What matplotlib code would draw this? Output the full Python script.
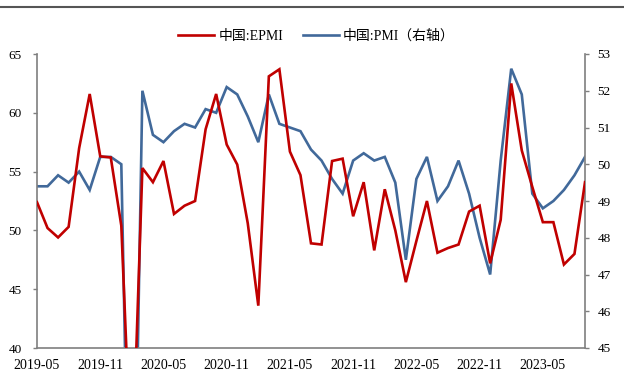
import matplotlib
matplotlib.use("Agg")
import matplotlib.pyplot as plt
from matplotlib.lines import Line2D

plt.rcParams['font.family'] = ['Liberation Serif', 'Noto Sans CJK SC', 'DejaVu Sans']

# Monthly series, 2019-05 .. 2023-09
months = [f"{y}-{m:02d}" for y in range(2019, 2024) for m in range(1, 13)]
months = months[months.index("2019-05"):months.index("2023-09") + 1]

epmi = [52.4, 50.2, 49.4, 50.3, 57.0, 61.6, 56.3, 56.2, 50.4, 28.6,
        55.3, 54.1, 55.9, 51.4, 52.1, 52.5, 58.6, 61.6, 57.3, 55.6,
        50.6, 43.6, 63.1, 63.7, 56.7, 54.7, 48.9, 48.8, 55.9, 56.1,
        51.2, 54.1, 48.3, 53.5, 50.0, 45.6, 49.1, 52.5, 48.1, 48.5,
        48.8, 51.6, 52.1, 47.2, 50.9, 62.5, 56.8, 53.7, 50.7, 50.7,
        47.1, 48.0, 54.1]

pmi = [49.4, 49.4, 49.7, 49.5, 49.8, 49.3, 50.2, 50.2, 50.0, 35.7,
       52.0, 50.8, 50.6, 50.9, 51.1, 51.0, 51.5, 51.4, 52.1, 51.9,
       51.3, 50.6, 51.9, 51.1, 51.0, 50.9, 50.4, 50.1, 49.6, 49.2,
       50.1, 50.3, 50.1, 50.2, 49.5, 47.4, 49.6, 50.2, 49.0, 49.4,
       50.1, 49.2, 48.0, 47.0, 50.1, 52.6, 51.9, 49.2, 48.8, 49.0,
       49.3, 49.7, 50.2]

label_epmi = "中国:EPMI"
label_pmi = "中国:PMI（右轴）"

red = "#C00000"
blue = "#41699A"
spine_gray = "#7F7F7F"

fig = plt.figure(figsize=(6.24, 3.79), dpi=100)
ax = fig.add_axes([37 / 624, 1 - 348 / 379, (585 - 37) / 624, (348 - 54) / 379])
ax2 = ax.twinx()

x = list(range(len(months)))
ax.plot(x, epmi, color=red, lw=1.9, solid_joinstyle="miter", zorder=3)
ax2.plot(x, pmi, color=blue, lw=1.9, solid_joinstyle="miter", zorder=2)
ax.set_zorder(ax2.get_zorder() + 1)
ax.patch.set_visible(False)

ax.set_xlim(0, len(months) - 1)
ax.set_ylim(40, 65)
ax2.set_ylim(45, 53)
ax.set_yticks(range(40, 66, 5))
ax2.set_yticks(range(45, 54))

tick_idx = list(range(0, len(months), 6))
ax.set_xticks(tick_idx)
ax.set_xticklabels([months[i] for i in tick_idx])

for a in (ax, ax2):
    for s in a.spines.values():
        s.set_visible(False)
ax.spines["left"].set_visible(True)
ax.spines["bottom"].set_visible(True)
ax2.spines["right"].set_visible(True)
for s in (ax.spines["left"], ax.spines["bottom"], ax2.spines["right"]):
    s.set_color(spine_gray)
    s.set_linewidth(1.2)

ax.tick_params(axis="x", length=0, pad=8, labelsize=10, colors="black")
ax.tick_params(axis="y", length=3, width=1, color=spine_gray, pad=8, labelsize=9.5)
ax2.tick_params(axis="y", length=3, width=1, color=spine_gray, pad=6, labelsize=9.5)

handles = [Line2D([], [], color=red, lw=1.9), Line2D([], [], color=blue, lw=1.9)]
fig.legend(handles, [label_epmi, label_pmi], loc="center", bbox_to_anchor=(0.507, 1 - 36 / 379),
           ncol=2, frameon=False, fontsize=10, handlelength=2.6, handletextpad=0.3,
           columnspacing=1.4)

# top border rule
fig.add_artist(Line2D([0, 1], [1 - 7 / 379, 1 - 7 / 379], transform=fig.transFigure,
                      color="#555555", lw=1.5))

fig.savefig("out.png", dpi=100)
